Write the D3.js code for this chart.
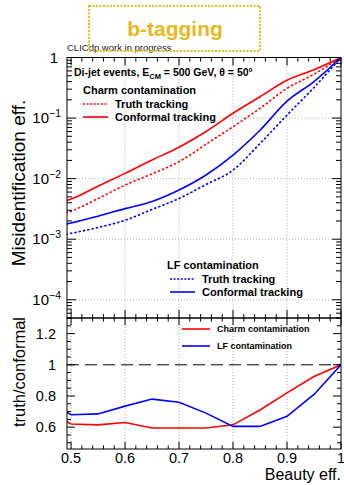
<!DOCTYPE html>
<html>
<head>
<meta charset="utf-8">
<script src="https://cdn.jsdelivr.net/npm/d3@7.9.0/dist/d3.min.js"></script>
<style>
  html, body { margin: 0; padding: 0; background: #fff; }
  svg { display: block; font-family: "Liberation Sans", Arial, sans-serif; }
</style>
</head>
<body>
<svg id="chart" width="344" height="485"></svg>
<script>
// beauty efficiency points
const beautyEff = [0.49, 0.5, 0.55, 0.6, 0.65, 0.7, 0.75, 0.8, 0.85, 0.9, 0.95, 1.0];

// misidentification efficiencies
const charmConformal = [4.3e-3, 4.6e-3, 7.5e-3, 0.0122, 0.0203, 0.033, 0.060, 0.12, 0.225, 0.42, 0.63, 1.0];
const charmTruth = [2.7e-3, 2.9e-3, 4.7e-3, 7.8e-3, 0.012, 0.019, 0.037, 0.072, 0.145, 0.31, 0.53, 1.0];
const lfConformal = [1.77e-3, 1.85e-3, 2.4e-3, 3.2e-3, 4.2e-3, 6.5e-3, 0.0115, 0.0245, 0.063, 0.19, 0.40, 1.0];
const lfTruth = [1.2e-3, 1.25e-3, 1.56e-3, 2.05e-3, 3.1e-3, 4.7e-3, 8.0e-3, 0.0138, 0.038, 0.112, 0.32, 1.0];

// truth / conformal ratios
const charmRatio = [0.64, 0.62, 0.615, 0.63, 0.595, 0.595, 0.595, 0.615, 0.71, 0.82, 0.925, 1.0];
const lfRatio = [0.70, 0.68, 0.685, 0.735, 0.78, 0.76, 0.69, 0.605, 0.605, 0.67, 0.81, 1.0];

const xTicks = [0.5, 0.6, 0.7, 0.8, 0.9, 1.0];
const yTopTicks = [1, 1e-1, 1e-2, 1e-3, 1e-4];
const yTopLabels = ['1', '10|−1', '10|−2', '10|−3', '10|−4'];
const yRatioTicks = [0.6, 0.8, 1.0, 1.2];

const RED = '#ff0000', BLUE = '#0000ff', GOLD = '#e8b820';

const svg = d3.select('#chart');
const left = 67, right = 341;
const topY0 = 57.5, topY1 = 318, botY1 = 449;

const x = d3.scaleLinear().domain([0.4925, 1.0]).range([left, right]);
const yTop = d3.scaleLog().domain([5e-5, 1]).range([topY1, topY0]);
const yBot = d3.scaleLinear().domain([0.46, 1.3]).range([botY1, topY1]);

const defs = svg.append('defs');
defs.append('clipPath').attr('id', 'clipTop')
  .append('rect').attr('x', left).attr('y', topY0).attr('width', right - left).attr('height', topY1 - topY0);
defs.append('clipPath').attr('id', 'clipBot')
  .append('rect').attr('x', left).attr('y', topY1).attr('width', right - left).attr('height', botY1 - topY1);

// ---------- grids ----------
const grid = svg.append('g')
  .attr('stroke', '#9a9a9a').attr('stroke-width', 0.8).attr('stroke-dasharray', '1,2');
xTicks.filter((t) => t < 1).forEach((t) => {
  if (t > 0.5) grid.append('line').attr('x1', x(t)).attr('x2', x(t)).attr('y1', topY0).attr('y2', topY1);
  grid.append('line').attr('x1', x(t)).attr('x2', x(t)).attr('y1', topY1).attr('y2', botY1);
});
yTopTicks.filter((t) => t < 1).forEach((t) => {
  grid.append('line').attr('x1', left).attr('x2', right).attr('y1', yTop(t)).attr('y2', yTop(t));
});

// ---------- curves ----------
function drawCurve(g, yScale, values, color, dotted, smooth) {
  const line = d3.line()
    .x((d, i) => x(beautyEff[i]))
    .y((d) => yScale(d))
    .curve(smooth ? d3.curveMonotoneX : d3.curveLinear);
  g.append('path')
    .attr('d', line(values))
    .attr('fill', 'none')
    .attr('stroke', color)
    .attr('stroke-width', 1.6)
    .attr('stroke-dasharray', dotted ? '2.4,2' : null);
}

const gTop = svg.append('g').attr('clip-path', 'url(#clipTop)');
drawCurve(gTop, yTop, charmTruth, RED, true, true);
drawCurve(gTop, yTop, charmConformal, RED, false, true);
drawCurve(gTop, yTop, lfTruth, BLUE, true, true);
drawCurve(gTop, yTop, lfConformal, BLUE, false, true);

const gBot = svg.append('g').attr('clip-path', 'url(#clipBot)');
gBot.append('line')
  .attr('x1', left).attr('x2', right).attr('y1', yBot(1)).attr('y2', yBot(1))
  .attr('stroke', '#000').attr('stroke-width', 1).attr('stroke-dasharray', '12,6');
drawCurve(gBot, yBot, charmRatio, RED, false, false);
drawCurve(gBot, yBot, lfRatio, BLUE, false, false);

// ---------- frames & ticks ----------
const axes = svg.append('g').attr('stroke', '#000').attr('stroke-width', 1).attr('fill', 'none');
axes.append('rect').attr('x', left).attr('y', topY0).attr('width', right - left).attr('height', topY1 - topY0);
axes.append('rect').attr('x', left).attr('y', topY1).attr('width', right - left).attr('height', botY1 - topY1);

function tick(x1, y1, x2, y2) {
  axes.append('line').attr('x1', x1).attr('y1', y1).attr('x2', x2).attr('y2', y2);
}

// x ticks (0.1 major, 0.02 minor)
d3.range(0.5, 1.0001, 0.02).forEach((t) => {
  const major = Math.abs(t * 10 - Math.round(t * 10)) < 1e-6;
  const len = major ? 8 : 4;
  const px = x(t);
  tick(px, topY0, px, topY0 + len);
  tick(px, topY1, px, topY1 - len);
  tick(px, topY1, px, topY1 + len * 0.9);
  tick(px, botY1, px, botY1 - len * 0.9);
});

// log y ticks top panel
for (let e = -5; e <= 0; e++) {
  for (let m = 1; m <= 9; m++) {
    const v = m * Math.pow(10, e);
    if (v < 5e-5 || v > 1) continue;
    const len = m === 1 ? 9 : 5;
    const py = yTop(v);
    tick(left, py, left + len, py);
    tick(right, py, right - len, py);
  }
}

// ratio y ticks
d3.range(0.5, 1.3001, 0.05).forEach((t) => {
  const major = Math.abs(t * 5 - Math.round(t * 5)) < 1e-6;
  const len = major ? 8 : 4;
  const py = yBot(t);
  tick(left, py, left + len, py);
  tick(right, py, right - len, py);
});

// ---------- tick labels ----------
const labels = svg.append('g').attr('fill', '#000');
yTopTicks.forEach((t, i) => {
  const [base, exp] = yTopLabels[i].split('|');
  const txt = labels.append('text')
    .attr('x', exp ? 61 : 58).attr('y', yTop(t) + 5)
    .attr('text-anchor', 'end').attr('font-size', 15);
  txt.append('tspan').text(base);
  if (exp) txt.append('tspan').attr('dy', -6).attr('font-size', 10.5).text(exp);
});
yRatioTicks.forEach((t) => {
  labels.append('text')
    .attr('x', 56).attr('y', yBot(t) + 5)
    .attr('text-anchor', 'end').attr('font-size', 14.5)
    .text(d3.format('~g')(t));
});
xTicks.forEach((t) => {
  labels.append('text')
    .attr('x', x(t)).attr('y', 463)
    .attr('text-anchor', 'middle').attr('font-size', 14.5)
    .text(d3.format('~g')(t));
});

// ---------- titles ----------
labels.append('text')
  .attr('transform', 'translate(25,183) rotate(-90)')
  .attr('text-anchor', 'middle').attr('font-size', 19)
  .text('Misidentification eff.');
labels.append('text')
  .attr('transform', 'translate(25,372) rotate(-90)')
  .attr('text-anchor', 'middle').attr('font-size', 16.5)
  .text('truth/conformal');
labels.append('text')
  .attr('x', 341).attr('y', 480)
  .attr('text-anchor', 'end').attr('font-size', 16)
  .text('Beauty eff.');

labels.append('text')
  .attr('x', 67).attr('y', 51).attr('font-size', 9.5).attr('fill', '#222')
  .text('CLICdp work in progress');

// b-tagging box
svg.append('rect')
  .attr('x', 89).attr('y', 6).attr('width', 171).attr('height', 45)
  .attr('fill', 'none').attr('stroke', GOLD).attr('stroke-width', 2.2)
  .attr('stroke-dasharray', '2,1.5');
svg.append('text')
  .attr('x', 175).attr('y', 36).attr('text-anchor', 'middle')
  .attr('font-size', 21).attr('font-weight', 'bold').attr('fill', GOLD)
  .text('b-tagging');

// ---------- legends ----------
const leg = svg.append('g').attr('font-weight', 'bold').attr('fill', '#000');
const info = leg.append('text').attr('x', 74).attr('y', 76).attr('font-size', 10.5);
info.append('tspan').text('Di-jet events, E');
info.append('tspan').attr('dy', 3).attr('font-size', 7.5).text('CM');
info.append('tspan').attr('dy', -3).text(' = 500 GeV,  θ = 50°');

function legendEntry(xl, yl, color, dotted, label, size, lineLen) {
  leg.append('line')
    .attr('x1', xl).attr('x2', xl + lineLen).attr('y1', yl).attr('y2', yl)
    .attr('stroke', color).attr('stroke-width', 1.6)
    .attr('stroke-dasharray', dotted ? '2,1.6' : null);
  leg.append('text').attr('x', xl + lineLen + 7).attr('y', yl + size * 0.36)
    .attr('font-size', size).text(label);
}

leg.append('text').attr('x', 83).attr('y', 94).attr('font-size', 11).text('Charm contamination');
legendEntry(83, 104, RED, true, 'Truth tracking', 11, 25);
legendEntry(83, 117, RED, false, 'Conformal tracking', 11, 25);

leg.append('text').attr('x', 167).attr('y', 269).attr('font-size', 11).text('LF contamination');
legendEntry(170, 279, BLUE, true, 'Truth tracking', 11, 25);
legendEntry(170, 292, BLUE, false, 'Conformal tracking', 11, 25);

legendEntry(182, 329, RED, false, 'Charm contamination', 9, 28);
legendEntry(182, 346, BLUE, false, 'LF contamination', 9, 28);
</script>
</body>
</html>
